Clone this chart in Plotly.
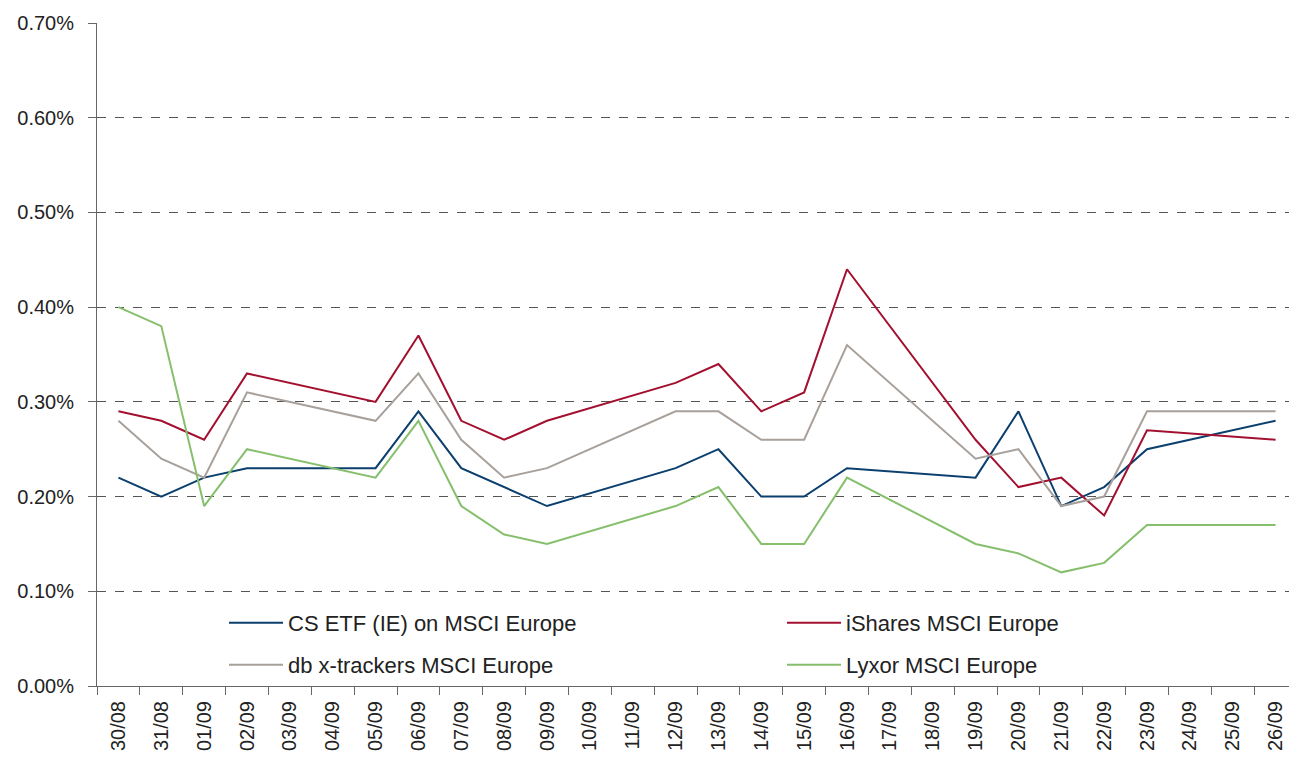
import plotly.graph_objects as go

dates = ["30/08", "31/08", "01/09", "02/09", "03/09", "04/09", "05/09", "06/09", "07/09",
         "08/09", "09/09", "10/09", "11/09", "12/09", "13/09", "14/09", "15/09", "16/09",
         "17/09", "18/09", "19/09", "20/09", "21/09", "22/09", "23/09", "24/09", "25/09", "26/09"]

N = None
cs_etf = [0.22, 0.20, 0.22, 0.23, N, N, 0.23, 0.29, 0.23, 0.21, 0.19, N, N, 0.23, 0.25,
          0.20, 0.20, 0.23, N, N, 0.22, 0.29, 0.19, 0.21, 0.25, N, N, 0.28]
ishares = [0.29, 0.28, 0.26, 0.33, N, N, 0.30, 0.37, 0.28, 0.26, 0.28, N, N, 0.32, 0.34,
           0.29, 0.31, 0.44, N, N, 0.26, 0.21, 0.22, 0.18, 0.27, N, N, 0.26]
db_xtrackers = [0.28, 0.24, 0.22, 0.31, N, N, 0.28, 0.33, 0.26, 0.22, 0.23, N, N, 0.29, 0.29,
                0.26, 0.26, 0.36, N, N, 0.24, 0.25, 0.19, 0.20, 0.29, N, N, 0.29]
lyxor = [0.40, 0.38, 0.19, 0.25, N, N, 0.22, 0.28, 0.19, 0.16, 0.15, N, N, 0.19, 0.21,
         0.15, 0.15, 0.22, N, N, 0.15, 0.14, 0.12, 0.13, 0.17, N, N, 0.17]

y_ticks = [0.0, 0.1, 0.2, 0.3, 0.4, 0.5, 0.6, 0.7]

series = [
    ("CS ETF (IE) on MSCI Europe", cs_etf, "#0B3F6E", "legend"),
    ("iShares MSCI Europe", ishares, "#A3102F", "legend2"),
    ("db x-trackers MSCI Europe", db_xtrackers, "#A8A09A", "legend3"),
    ("Lyxor MSCI Europe", lyxor, "#86BF6C", "legend4"),
]

FONT = "Liberation Sans, Arial, sans-serif"

# page has an 8px body margin; compensate so plot sits where the reference has it
W, H = 1289, 757
ML, MT, MB, MR = 89, 15, 79, 0
PLOT_L = 8 + ML              # screen x of plot left
PLOT_B = 8 + H - MB          # screen y of plot bottom
PLOT_W = W - ML - MR
PLOT_H = H - MT - MB

fig = go.Figure()
for name, vals, color, lg in series:
    fig.add_trace(go.Scatter(
        x=dates, y=vals, name=name, mode="lines", connectgaps=True,
        line=dict(color=color, width=2), legend=lg, showlegend=True,
    ))

legend_common = dict(
    orientation="v", bgcolor="rgba(0,0,0,0)",
    font=dict(family=FONT, size=22, color="#222"),
    xanchor="left", yanchor="middle", itemwidth=54,
)


def lx(px):
    return (px - PLOT_L) / PLOT_W


def ly(py):
    return (PLOT_B - py) / PLOT_H


fig.update_layout(
    width=W, height=H,
    showlegend=True,
    margin=dict(l=ML, r=MR, t=MT, b=MB),
    paper_bgcolor="white", plot_bgcolor="white",
    font=dict(family=FONT, size=20, color="#222"),
    legend=dict(x=lx(224), y=ly(623), **legend_common),
    legend2=dict(x=lx(782), y=ly(623), **legend_common),
    legend3=dict(x=lx(224), y=ly(665), **legend_common),
    legend4=dict(x=lx(782), y=ly(665), **legend_common),
    xaxis=dict(
        type="category", tickangle=-90, showgrid=False,
        ticks="outside", tickson="boundaries", ticklen=8, tickcolor="#666",
        showline=True, linecolor="#666", linewidth=1,
        tickfont=dict(family=FONT, size=20, color="#222"),
        ticklabelstandoff=6,
        range=[-0.5, len(dates) - 0.5],
    ),
    yaxis=dict(
        range=[0, 0.7], tickvals=y_ticks,
        ticktext=[f"{v:.2f}%" for v in y_ticks],
        showgrid=True, gridcolor="#555", griddash="dash", gridwidth=1,
        ticks="outside", ticklen=8, tickcolor="#666",
        showline=True, linecolor="#666", linewidth=1,
        zeroline=False, ticklabelstandoff=10,
        tickfont=dict(family=FONT, size=20, color="#222"),
    ),
)

fig.write_html("out.html")
